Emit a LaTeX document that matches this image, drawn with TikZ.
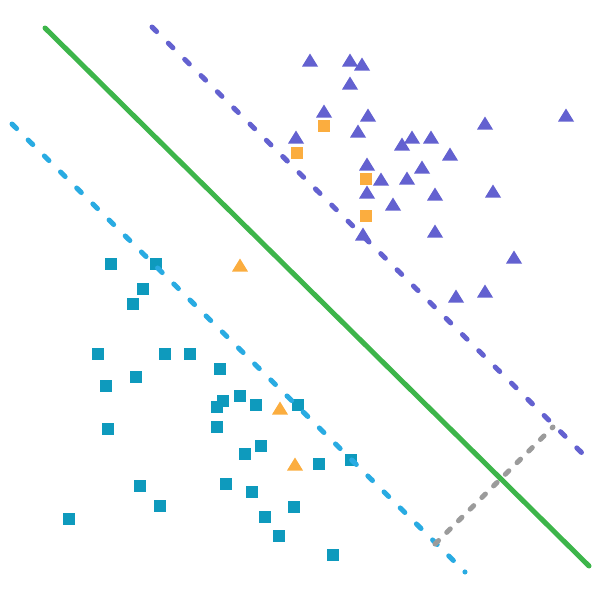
\documentclass[tikz,border=0pt]{standalone}
\usepackage{tikz}

\definecolor{hypgreen}{HTML}{3DB54A}
\definecolor{marginpurple}{HTML}{6361D0}
\definecolor{marginblue}{HTML}{29ABE2}
\definecolor{dotteal}{HTML}{0E9ABD}
\definecolor{dotorange}{HTML}{FBAD3F}
\definecolor{gapgray}{HTML}{9B9B9B}

\begin{document}
\begin{tikzpicture}[x=1pt,y=-1pt,
	margin/.style={line width=5pt,line cap=round,dash pattern=on 6.5pt off 16.5pt},
	tri/.pic={\fill (-8,6.5) -- (8,6.5) -- (0,-6.5) -- cycle;}]
	\useasboundingbox (0,0) rectangle (600,600);
	% class A: squares
	\foreach \x/\y in {111/264,156/264,143/289,133/304,98/354,165/354,190/354,220/369,
		136/377,106/386,223/401,217/407,240/396,256/405,298/405,217/427,108/429,
		261/446,245/454,319/464,351/460,140/486,226/484,252/492,160/506,69/519,
		294/507,265/517,279/536,333/555}
		\fill[dotteal] (\x-6.3,\y-6.3) rectangle ++(12.6,12.6);
	% class B: triangles
	\foreach \x/\y in {310/60,350/60,362/64,350/83,324/111,368/115,358/131,296/137,
		485/123,566/115,412/137,431/137,402/144,450/154,367/164,422/167,381/179,
		407/178,367/192,435/194,493/191,393/204,363/234,435/231,514/257,456/296,485/291}
		\pic[marginpurple] at (\x,\y) {tri};
	% misclassified points
	\foreach \x/\y in {240/265,280/408,295/464}
		\pic[dotorange] at (\x,\y) {tri};
	\foreach \x/\y in {324/126,297/153,366/179,366/216}
		\fill[dotorange] (\x-6.3,\y-6.3) rectangle ++(12.6,12.6);
	% margins and hyperplane
	\coordinate (ptop) at (152,27);
	\coordinate (pbot) at (583,454);
	\coordinate (btop) at (12,124);
	\coordinate (bbot) at (465,572);
	\coordinate (gtop) at (45,28);
	\coordinate (gbot) at (589,566);
	\coordinate (wlow) at (435,544);
	\coordinate (wup) at (553,427);
	\draw[margin,marginpurple] (ptop) -- (pbot);
	\draw[margin,marginblue,dash pattern=on 6.5pt off 16.25pt] (btop) -- (bbot);
	\draw[margin,gapgray,dash pattern=on 5pt off 11.5pt] (wlow) -- (wup);
	\draw[line width=5pt,line cap=round,hypgreen] (gtop) -- (gbot);
\end{tikzpicture}
\end{document}
